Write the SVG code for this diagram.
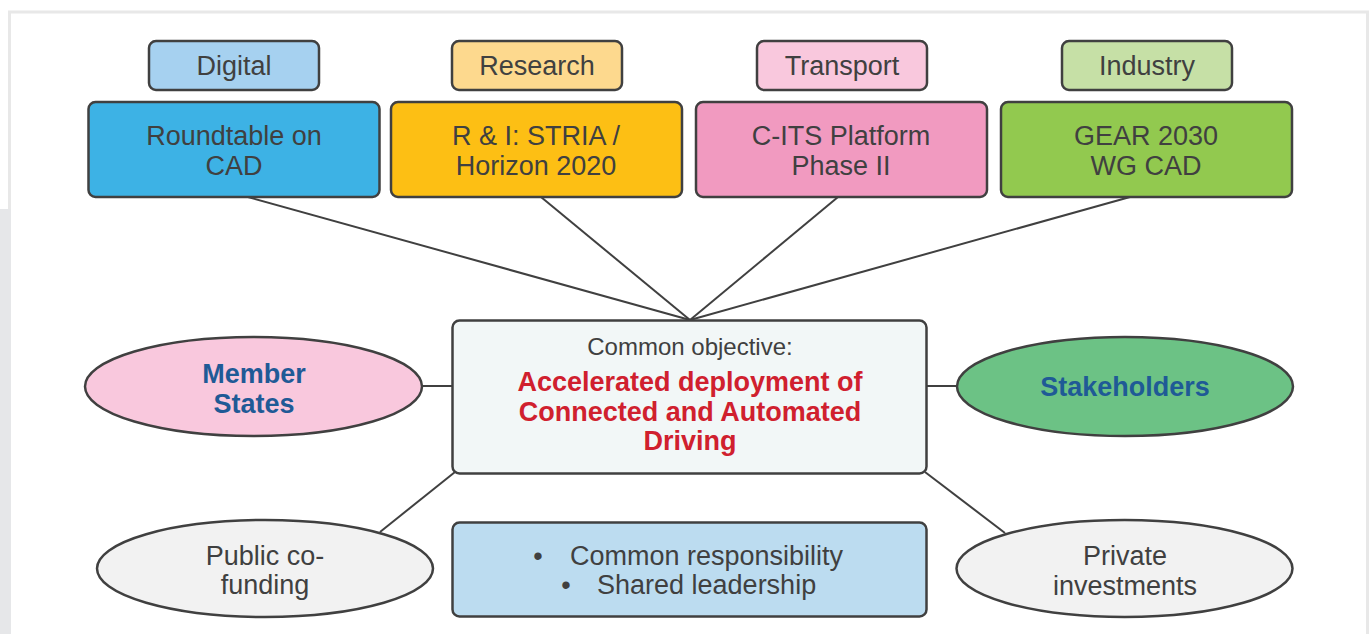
<svg xmlns="http://www.w3.org/2000/svg" width="1370" height="634" viewBox="0 0 1370 634">
<style>
.box{stroke:#404040;stroke-width:2.5}
.t{font-family:"Liberation Sans",Arial,sans-serif;font-size:27px;fill:#404040;text-anchor:middle}
.b{font-weight:bold;fill:#1f5a96}
.r{font-weight:bold;fill:#d0202e}
.conn line{stroke:#404040;stroke-width:2}
</style>
<rect x="0" y="0" width="1370" height="634" fill="#ffffff"/>
<g id="frame" fill="none" stroke="#e8e8e8" stroke-width="3">
<line x1="8" y1="12" x2="1369" y2="12"/>
<line x1="9.5" y1="12" x2="9.5" y2="210"/>
<line x1="1367.5" y1="12" x2="1367.5" y2="634"/>
</g>
<rect x="0" y="209" width="11" height="425" fill="#e6e7e9"/>
<g class="conn" id="connectors">
<line x1="248" y1="197" x2="690" y2="320"/>
<line x1="541" y1="197" x2="690" y2="320"/>
<line x1="838" y1="197" x2="690" y2="320"/>
<line x1="1130" y1="197" x2="690" y2="320"/>
<line x1="422" y1="386" x2="452" y2="386"/>
<line x1="927" y1="386" x2="957" y2="386"/>
<line x1="455" y1="472" x2="380" y2="532"/>
<line x1="925" y1="472" x2="1005" y2="533"/>
</g>
<g id="digital"><rect class="box" x="149" y="41" width="170" height="49" rx="7" fill="#a6d1f0"/><text class="t" x="234" y="75">Digital</text></g>
<g id="research"><rect class="box" x="452" y="41" width="170" height="49" rx="7" fill="#fdd98e"/><text class="t" x="537" y="75">Research</text></g>
<g id="transport"><rect class="box" x="757" y="41" width="170" height="49" rx="7" fill="#f9c8dd"/><text class="t" x="842" y="75">Transport</text></g>
<g id="industry"><rect class="box" x="1062" y="41" width="170" height="49" rx="7" fill="#c6e0a6"/><text class="t" x="1147" y="75">Industry</text></g>
<g id="roundtable"><rect class="box" x="88.5" y="102" width="291" height="95" rx="7" fill="#3db2e5"/><text class="t" x="234" y="145">Roundtable on</text><text class="t" x="234" y="175">CAD</text></g>
<g id="rni"><rect class="box" x="391" y="102" width="291" height="95" rx="7" fill="#fdbf14"/><text class="t" x="536" y="145">R &amp; I: STRIA /</text><text class="t" x="536" y="175">Horizon 2020</text></g>
<g id="cits"><rect class="box" x="696" y="102" width="291" height="95" rx="7" fill="#f19ac0"/><text class="t" x="841" y="145">C-ITS Platform</text><text class="t" x="841" y="175">Phase II</text></g>
<g id="gear"><rect class="box" x="1001" y="102" width="291" height="95" rx="7" fill="#92c94f"/><text class="t" x="1146" y="145">GEAR 2030</text><text class="t" x="1146" y="175">WG CAD</text></g>
<g id="objective"><rect class="box" x="452.5" y="320.5" width="474" height="153" rx="7" fill="#f2f7f7"/>
<text class="t" x="690" y="355" style="font-size:24px">Common objective:</text>
<text class="t r" x="690" y="391">Accelerated deployment of</text>
<text class="t r" x="690" y="421">Connected and Automated</text>
<text class="t r" x="690" y="450">Driving</text></g>
<g id="member"><ellipse class="box" cx="253.5" cy="386.5" rx="168.5" ry="49.5" fill="#f9c8dd"/><text class="t b" x="254" y="383">Member</text><text class="t b" x="254" y="413">States</text></g>
<g id="stakeholders"><ellipse class="box" cx="1125" cy="386.5" rx="168" ry="49.5" fill="#6cc285"/><text class="t b" x="1125" y="396">Stakeholders</text></g>
<g id="public"><ellipse class="box" cx="265" cy="568.5" rx="168" ry="48.5" fill="#f2f2f2"/><text class="t" x="265" y="565">Public co-</text><text class="t" x="265" y="594">funding</text></g>
<g id="private"><ellipse class="box" cx="1124.5" cy="568.5" rx="168" ry="48.5" fill="#f2f2f2"/><text class="t" x="1125" y="565">Private</text><text class="t" x="1125" y="595">investments</text></g>
<g id="shared"><rect class="box" x="452.5" y="522.5" width="474" height="94" rx="7" fill="#bcdcf0"/>
<text class="t" x="538" y="565">•</text><text class="t" x="570" y="565" style="text-anchor:start">Common responsibility</text>
<text class="t" x="566" y="594">•</text><text class="t" x="597" y="594" style="text-anchor:start">Shared leadership</text></g>
</svg>
